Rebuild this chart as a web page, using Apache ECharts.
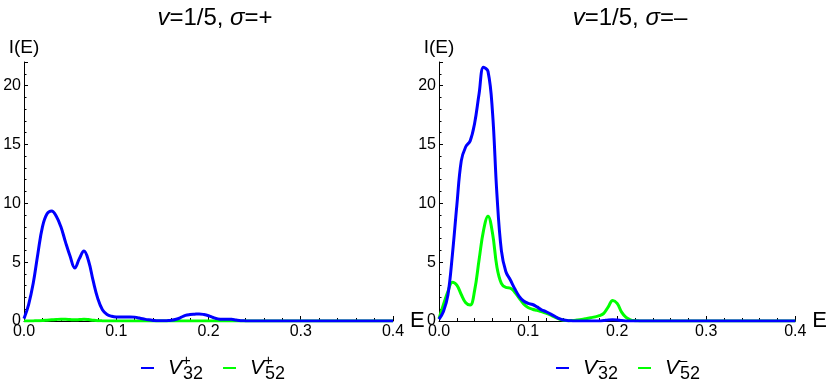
<!DOCTYPE html>
<html>
<head>
<meta charset="utf-8">
<script src="https://cdn.jsdelivr.net/npm/echarts@6/dist/echarts.min.js"></script>
<style>
html,body{margin:0;padding:0;background:#fff;}
#c{width:830px;height:383px;}
</style>
</head>
<body>
<div id="c"></div>
<script>
// Energy grid (E)
var energy = [0,0.005,0.01,0.015,0.02,0.025,0.03,0.035,0.04,0.045,0.05,0.055,0.06,0.065,0.07,0.075,0.08,0.085,0.09,0.095,
  0.1,0.105,0.11,0.115,0.12,0.125,0.13,0.135,0.14,0.145,0.15,0.155,0.16,0.165,0.17,0.175,0.18,0.185,0.19,0.195,
  0.2,0.205,0.21,0.215,0.22,0.225,0.23,0.235,0.24,0.245,0.25,0.3,0.35,0.4];

// sigma = + panel
var V32plus = [0.2,1.4,3.2,5.7,8.0,9.1,9.35,8.9,8.0,6.7,5.5,4.5,5.3,5.95,5.1,3.4,1.9,0.95,0.55,0.4,
  0.35,0.35,0.35,0.35,0.33,0.25,0.17,0.1,0.05,0.02,0.02,0.03,0.06,0.15,0.3,0.48,0.55,0.58,0.6,0.55,
  0.45,0.3,0.18,0.14,0.15,0.14,0.08,0.03,0.01,0,0,0,0,0];
var V52plus = [0,0,0.01,0.02,0.04,0.07,0.1,0.13,0.15,0.15,0.12,0.1,0.12,0.15,0.12,0.07,0.03,0.01,0,0,
  0,0,0,0,0,0,0,0,0,0,0,0,0,0,0,0,0,0,0,0,
  0,0,0,0,0,0,0,0,0,0,0,0,0,0];

// sigma = - panel
var V32minus = [0.15,0.8,2.2,5.6,9.8,13.6,14.8,15.3,16.8,19.3,21.55,21.2,17.8,10.8,6.0,4.2,3.5,2.75,2.1,1.7,
  1.5,1.4,1.2,0.95,0.8,0.6,0.4,0.2,0.08,0.03,0.01,0,0,0,0,0,0,0.04,0.09,0.11,
  0.09,0.04,0.01,0,0,0,0,0,0,0,0,0,0,0];
var V52minus = [0.2,1.4,2.5,3.3,3.05,2.25,1.55,1.35,2.6,5.2,7.7,8.9,7.5,4.6,3.2,2.85,2.8,2.45,1.95,1.45,
  1.15,1.0,0.9,0.8,0.68,0.52,0.33,0.16,0.06,0.03,0.04,0.08,0.13,0.2,0.28,0.35,0.45,0.65,1.2,1.75,
  1.5,0.75,0.3,0.1,0.03,0.01,0,0,0,0,0,0,0,0];

var xTicks = [0, 0.1, 0.2, 0.3, 0.4];
var yTicks = [0, 5, 10, 15, 20];

var titles = ['{i|v}=1/5, {i|σ}=+', '{i|v}=1/5, {i|σ}=–'];
var legendNames = [['V32+','V52+'],['V32-','V52-']];
var legendRich = {
  'V32+': '{v|V}{sup|+}{sub|32}',
  'V52+': '{v|V}{sup|+}{sub|52}',
  'V32-': '{v|V}{sup|–}{sub|32}',
  'V52-': '{v|V}{sup|–}{sub|52}'
};

function pairs(xs, ys){ return xs.map(function(x,i){ return [x, ys[i]]; }); }

var FONT = 'Liberation Sans, Arial, sans-serif';
var BLUE = '#0000ff', GREEN = '#00ff00';
var gridLefts = [24, 439];

var grids = [], xAxes = [], yAxes = [], titleArr = [], legends = [];
gridLefts.forEach(function(l, k){
  grids.push({left: l, top: 62, width: 369, height: 259, containLabel: false});
  xAxes.push({
    type: 'value', gridIndex: k, min: 0, max: 0.4, interval: 0.1,
    name: 'E', nameLocation: 'end', nameGap: 8,
    nameTextStyle: {fontFamily: FONT, fontSize: 22, color: '#000', verticalAlign: 'middle', align: 'left'},
    axisLine: {show: true, onZero: false, lineStyle: {color: '#000', width: 1}},
    axisTick: {show: true, inside: true, length: 5, lineStyle: {color: '#000'}},
    minorTick: {show: true, splitNumber: 5, length: 3, lineStyle: {color: '#000'}},
    splitLine: {show: false},
    axisLabel: {fontFamily: FONT, fontSize: 16, color: '#000', margin: 3,
      formatter: function(v){ return xTicks.indexOf(Math.round(v*10)/10) >= 0 ? v.toFixed(1) : ''; }}
  });
  yAxes.push({
    type: 'value', gridIndex: k, min: 0, max: 22, interval: 5,
    name: 'I(E)', nameLocation: 'end', nameGap: 5,
    nameTextStyle: {fontFamily: FONT, fontSize: 19, color: '#000', align: 'center', verticalAlign: 'bottom'},
    axisLine: {show: true, onZero: false, lineStyle: {color: '#000', width: 1}},
    axisTick: {show: true, inside: true, length: 4, lineStyle: {color: '#000'}},
    minorTick: {show: true, splitNumber: 5, length: 2.5, lineStyle: {color: '#000'}},
    splitLine: {show: false},
    axisLabel: {fontFamily: FONT, fontSize: 16, color: '#000', margin: 3, showMaxLabel: false,
      formatter: function(v){ return yTicks.indexOf(v) >= 0 ? String(v) : ''; }}
  });
  titleArr.push({
    text: titles[k], left: l + 186, top: 1, textAlign: 'center',
    textStyle: {fontFamily: FONT, fontSize: 24, fontWeight: 'normal', color: '#000',
      rich: {i: {fontFamily: FONT, fontSize: 24, fontStyle: 'italic', color: '#000'}}}
  });
  legends.push({
    data: legendNames[k], left: l + 112, top: 348, orient: 'horizontal',
    icon: 'rect', itemWidth: 13, itemHeight: 2, itemGap: 20,
    formatter: function(n){ return legendRich[n]; },
    textStyle: {fontFamily: FONT, color: '#000', rich: {
      v: {fontFamily: FONT, fontSize: 21, fontStyle: 'italic', color: '#000', lineHeight: 30, padding: [0,0,0,9]},
      sup: {fontFamily: FONT, fontSize: 15, color: '#000', verticalAlign: 'top', width: 1, lineHeight: 30},
      sub: {fontFamily: FONT, fontSize: 18, color: '#000', verticalAlign: 'bottom', lineHeight: 30}
    }}
  });
});

function mk(name, data, color, k){
  return {name: name, type: 'line', xAxisIndex: k, yAxisIndex: k, data: data,
    smooth: 0.4, showSymbol: false, symbol: 'none', lineStyle: {color: color, width: 3}, itemStyle: {color: color},
    z: color === BLUE ? 3 : 2};
}

var series = [
  mk('V52+', pairs(energy, V52plus), GREEN, 0),
  mk('V32+', pairs(energy, V32plus), BLUE, 0),
  mk('V32-', pairs(energy, V32minus), BLUE, 1),
  mk('V52-', pairs(energy, V52minus), GREEN, 1)
];

var chart = echarts.init(document.getElementById('c'), null, {renderer: 'canvas'});
chart.setOption({
  animation: false,
  backgroundColor: '#fff',
  title: titleArr,
  legend: legends,
  grid: grids,
  xAxis: xAxes,
  yAxis: yAxes,
  series: series
});
</script>
</body>
</html>
